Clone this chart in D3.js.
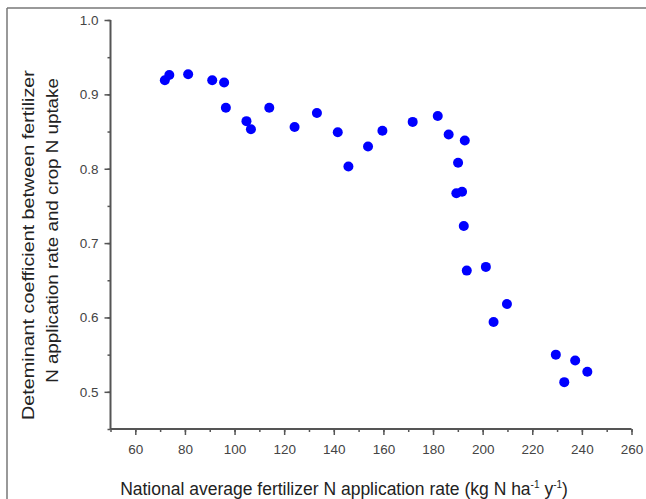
<!DOCTYPE html>
<html>
<head>
<meta charset="utf-8">
<script src="https://cdn.jsdelivr.net/npm/d3@7/dist/d3.min.js"></script>
<style>
  html, body { margin: 0; padding: 0; background: #fff; }
  svg { display: block; }
</style>
</head>
<body>
<svg id="chart" width="646" height="499"></svg>
<script>
// Data
const rateX = [71.9, 73.7, 81.3, 91.0, 95.8, 96.5, 104.8, 106.6, 114.0, 124.2, 133.2, 141.6,
               145.9, 153.8, 159.6, 171.8, 181.9, 186.3, 192.8, 190.1, 189.4, 191.7, 192.4,
               193.6, 201.3, 209.8, 204.4, 229.5, 237.3, 242.2, 232.9];
const coefY = [0.919, 0.926, 0.927, 0.919, 0.916, 0.882, 0.864, 0.853, 0.882, 0.856, 0.875, 0.849,
               0.803, 0.830, 0.851, 0.863, 0.871, 0.846, 0.838, 0.808, 0.767, 0.769, 0.723,
               0.663, 0.668, 0.618, 0.594, 0.550, 0.542, 0.527, 0.513];
const xTicks = [60, 80, 100, 120, 140, 160, 180, 200, 220, 240, 260];
const yTicks = [0.5, 0.6, 0.7, 0.8, 0.9, 1.0];
const xMinorTicks = d3.range(50, 261, 10);
const yMinorTicks = d3.range(0.45, 1.001, 0.05).map(v => +v.toFixed(2));
const yTitleLines = ["Deteminant coefficient between fertilizer", "N application rate and crop N uptake"];

const svg = d3.select("#chart");
const font = "'Liberation Sans', Arial, sans-serif";

// frame (top and left border)
svg.append("line").attr("x1", 7).attr("x2", 646).attr("y1", 8).attr("y2", 8)
  .attr("stroke", "#777").attr("stroke-width", 1.5);
svg.append("line").attr("x1", 7).attr("x2", 7).attr("y1", 8).attr("y2", 499)
  .attr("stroke", "#777").attr("stroke-width", 1.5);

const x = d3.scaleLinear().domain([50, 260]).range([110.5, 631.5]);
const y = d3.scaleLinear().domain([0.45, 1.0]).range([429, 20]);

const axisColor = "#555";

// X axis
const gx = svg.append("g").attr("transform", "translate(0,429)");
gx.call(d3.axisBottom(x).tickValues(xMinorTicks).tickSize(3).tickFormat(""));
gx.selectAll(".tick line").attr("stroke", axisColor).attr("stroke-width", 1.5);
gx.select(".domain").attr("stroke", axisColor).attr("stroke-width", 2)
  .attr("d", `M${x(50)},0H${x(260)}`);
const gx2 = svg.append("g").attr("transform", "translate(0,429)");
gx2.call(d3.axisBottom(x).tickValues(xTicks).tickSize(6).tickPadding(9).tickFormat(d3.format("d")));
gx2.select(".domain").remove();
gx2.selectAll(".tick line").attr("stroke", axisColor).attr("stroke-width", 1.5);
gx2.selectAll(".tick text").attr("font-family", font).attr("font-size", 13.5).attr("fill", "#444");

// Y axis
const gy = svg.append("g").attr("transform", "translate(110.5,0)");
gy.call(d3.axisLeft(y).tickValues(yMinorTicks).tickSize(3).tickFormat(""));
gy.selectAll(".tick line").attr("stroke", axisColor).attr("stroke-width", 1.5);
gy.select(".domain").attr("stroke", axisColor).attr("stroke-width", 2)
  .attr("d", `M0,${y(0.45)}V${y(1.0)}`);
const gy2 = svg.append("g").attr("transform", "translate(110.5,0)");
gy2.call(d3.axisLeft(y).tickValues(yTicks).tickSize(6).tickPadding(6).tickFormat(d3.format(".1f")));
gy2.select(".domain").remove();
gy2.selectAll(".tick line").attr("stroke", axisColor).attr("stroke-width", 1.5);
gy2.selectAll(".tick text").attr("font-family", font).attr("font-size", 13.5).attr("fill", "#444");

// Points
const pts = rateX.map((v, i) => ({ x: v, y: coefY[i] }));
svg.append("g").selectAll("circle").data(pts).join("circle")
  .attr("cx", d => x(d.x)).attr("cy", d => y(d.y)).attr("r", 5)
  .attr("fill", "#0000ff");

// Y title (two lines, slightly stretched along their length as in the reference)
const yTitleLayout = [
  { baseX: 34, centerY: 245, length: 350 },
  { baseX: 57.5, centerY: 230.5, length: 305 }
];
yTitleLines.forEach((txt, i) => {
  const L = yTitleLayout[i];
  const t = svg.append("text")
    .attr("text-anchor", "middle").attr("font-family", font).attr("font-size", 16)
    .attr("fill", "#222").text(txt);
  const natural = t.node().getComputedTextLength();
  const sx = L.length / natural;
  t.attr("transform", `translate(${L.baseX},${L.centerY}) rotate(-90) scale(${sx},1)`);
});

// X title
const xt = svg.append("text").attr("x", 344).attr("y", 495)
  .attr("text-anchor", "middle").attr("font-family", font).attr("font-size", 17.5).attr("fill", "#222");
xt.append("tspan").text("National average fertilizer N application rate (kg N ha");
xt.append("tspan").attr("dy", -7).attr("font-size", 10).text("-1");
xt.append("tspan").attr("dy", 7).text(" y");
xt.append("tspan").attr("dy", -7).attr("font-size", 10).text("-1");
xt.append("tspan").attr("dy", 7).text(")");
</script>
</body>
</html>
